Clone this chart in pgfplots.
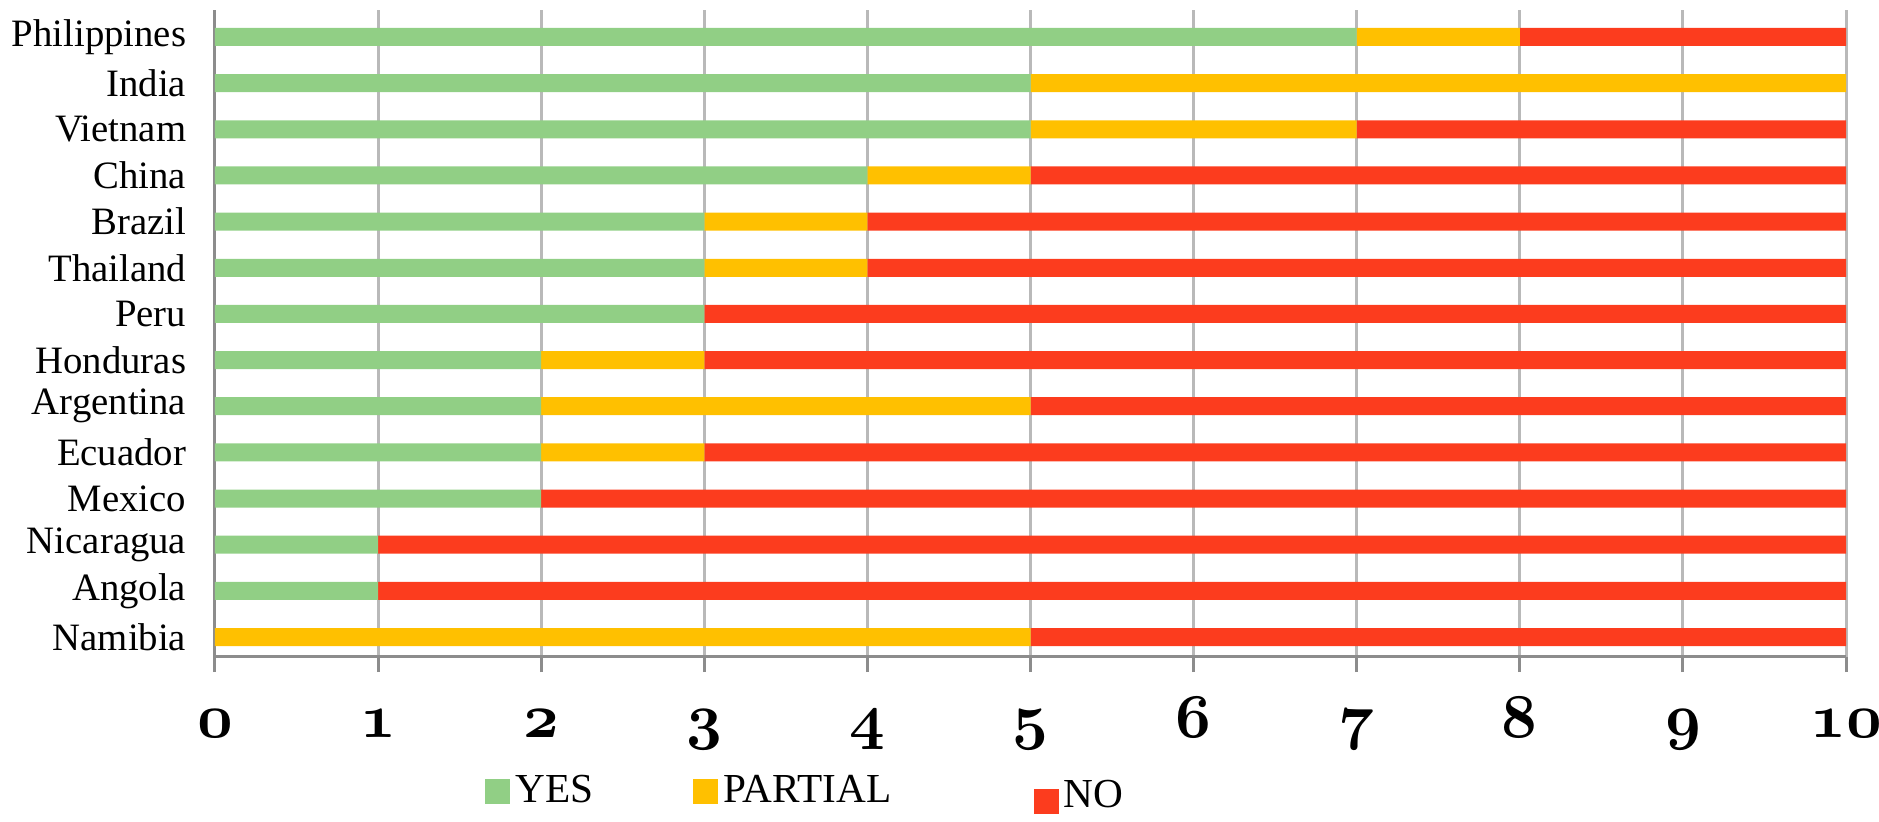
\documentclass[border=0pt]{standalone}
\usepackage{fontspec}
\setmainfont{Liberation Serif}
\usepackage{pgfplots}
\pgfplotsset{compat=1.18}
\definecolor{cyes}{RGB}{145,207,133}
\definecolor{cpart}{RGB}{255,192,0}
\definecolor{cno}{RGB}{252,60,30}
\definecolor{gridc}{RGB}{185,185,185}
\definecolor{axc}{RGB}{140,140,140}
\newcommand\osn{\fontsize{24.88}{26}\usefont{OML}{cmm}{b}{it}}
\begin{document}
\begin{tikzpicture}
\begin{axis}[name=ax, scale only axis, width=652.4pt, height=258.8pt,
  xbar stacked, bar width=7.2pt,
  xmin=0, xmax=10, ymin=-0.433, ymax=13.585,
  xtick={0,...,10}, xticklabels={0,1,2,3,4,5,6,7,8,9,10},
  ytick={0,...,13},
  yticklabels={Namibia,Angola,Nicaragua,Mexico,Ecuador,Argentina,Honduras,Peru,Thailand,Brazil,China,Vietnam,India,Philippines},
  axis x line*=bottom, axis y line*=left,
  axis line style={axc, line width=1.2pt, -},
  xmajorgrids, major grid style={gridc, line width=1.2pt},
  tick align=outside, major tick length=6pt,
  xtick style={axc, line width=1.2pt},
  ytick style={draw=none},
  xticklabel style={font=\osn, anchor=base, yshift=-26pt},
  yticklabel style={font=\fontsize{15.5}{17}\selectfont, xshift=-2pt},
  legend columns=3,
  legend style={at={(0.1655,-0.2087)}, anchor=west, draw=none, fill=none, inner sep=0pt,
    font=\fontsize{16.5}{18}\selectfont,
    /tikz/column 2/.style={column sep=38pt},
    /tikz/column 4/.style={column sep=55pt}},
]
\addplot[fill=cyes, draw=none, legend image code/.code={\fill[cyes] (0pt,-5pt) rectangle (10pt,5pt);}] coordinates {
(7,13) (5,12) (5,11) (4,10) (3,9) (3,8) (3,7) (2,6) (2,5) (2,4) (2,3) (1,2) (1,1) (0,0)};
\addplot[fill=cpart, draw=none, legend image code/.code={\fill[cpart] (0pt,-5pt) rectangle (10pt,5pt);}] coordinates {
(1,13) (5,12) (2,11) (1,10) (1,9) (1,8) (0,7) (1,6) (3,5) (1,4) (0,3) (0,2) (0,1) (5,0)};
\addplot[fill=cno, draw=none, legend image code/.code={\fill[cno] (0pt,-9pt) rectangle (10pt,1pt);}] coordinates {
(2,13) (0,12) (3,11) (5,10) (6,9) (6,8) (7,7) (7,6) (5,5) (7,4) (8,3) (9,2) (9,1) (5,0)};
\legend{YES,PARTIAL,\raisebox{-4pt}{NO}}
\end{axis}
\pgfresetboundingbox
\path[use as bounding box] ([shift={(-86pt,-66pt)}]ax.south west) rectangle ([shift={(13.2pt,4pt)}]ax.north east);
\end{tikzpicture}
\end{document}
